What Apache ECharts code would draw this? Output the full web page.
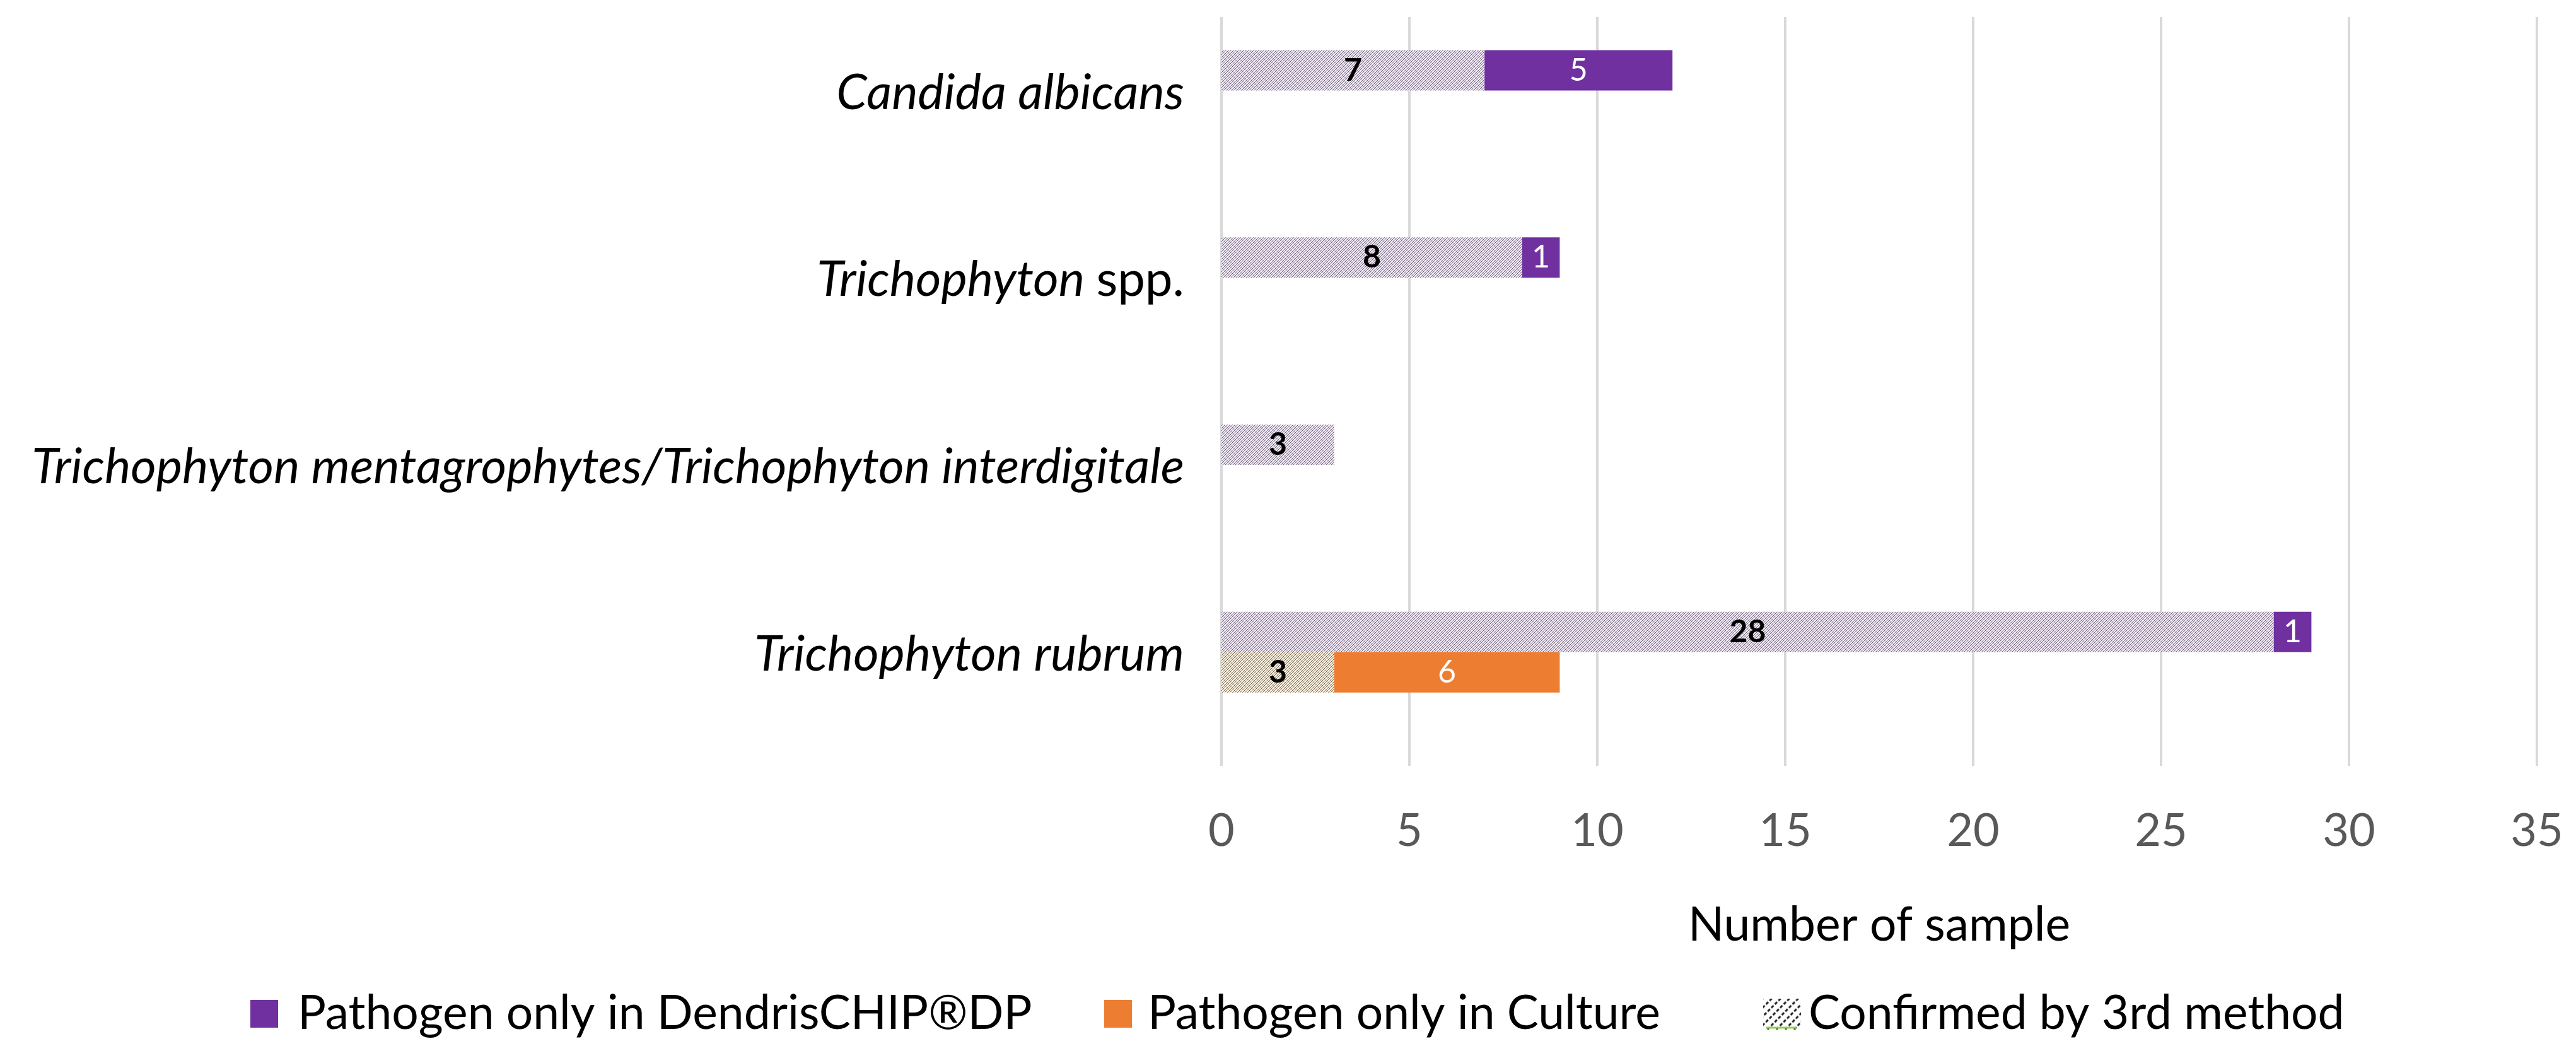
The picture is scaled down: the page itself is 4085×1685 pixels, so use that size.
<!DOCTYPE html>
<html><head><meta charset="utf-8">
<script src="https://cdn.jsdelivr.net/npm/echarts@6/dist/echarts.min.js"></script>
<style>html,body{margin:0;padding:0;background:#fff}#c{width:4085px;height:1685px}</style>
</head><body><div id="c"></div>
<script>
// ---- data ----
const categories = ['Candida albicans', 'Trichophyton spp.', 'Trichophyton mentagrophytes/Trichophyton interdigitale', 'Trichophyton rubrum'];
const confirmedDP = [7, 8, 3, 28];
const onlyDP = [5, 1, 0, 1];
const confirmedCulture = [0, 0, 0, 3];
const onlyCulture = [0, 0, 0, 6];
const spacer = [0, 0, 0, 0];
const xMin = 0, xMax = 35, xStep = 5;
const nameDP = 'Pathogen only in DendrisCHIP®DP';
const nameCulture = 'Pathogen only in Culture';
const nameConfirmed = 'Confirmed by 3rd method';
const xAxisName = 'Number of sample';

// ---- styles ----
const PURPLE = '#7030A0', ORANGE = '#ED7D31';
const FONT = 'Lato';

function hatch(base, ink) {
  const c = document.createElement('canvas'); c.width = 8; c.height = 8;
  const g = c.getContext('2d');
  g.fillStyle = base; g.fillRect(0, 0, 8, 8);
  g.fillStyle = ink;
  for (let y = 0; y < 8; y++) for (let x = 0; x < 8; x++) {
    if ((x + y) % 4 === 3) g.fillRect(x, y, 1, 1);
  }
  return c;
}
function squareIcon(color, w, h, sq) {
  const c = document.createElement('canvas'); c.width = w; c.height = h;
  const g = c.getContext('2d');
  g.fillStyle = color; g.fillRect(0, (h - sq) / 2, sq, sq);
  return 'image://' + c.toDataURL();
}
function hatchIcon(w, h, iw, ih) {
  const c = document.createElement('canvas'); c.width = w; c.height = h;
  const g = c.getContext('2d');
  const y0 = (h - ih) / 2;
  g.save(); g.beginPath(); g.rect(0, y0, iw, ih); g.clip();
  g.strokeStyle = '#222'; g.lineWidth = 3; g.setLineDash([5, 3]);
  for (let k = -ih; k < iw + ih; k += 14) {
    g.beginPath(); g.moveTo(k, y0 + ih); g.lineTo(k + ih, y0); g.stroke();
  }
  g.restore();
  g.fillStyle = '#92D050'; g.fillRect(4, y0 + ih - 4, iw - 12, 3);
  return 'image://' + c.toDataURL();
}

const hatchDP = { image: hatch('#ede4f3', '#6a6070'), repeat: 'repeat' };
const hatchCul = { image: hatch('#f8ecd8', '#6e6458'), repeat: 'repeat' };

const fmt = p => (p.value > 0 ? String(p.value) : '');
const lblBlack = { show: true, position: 'inside', color: '#000', fontWeight: 'bold', fontFamily: FONT, fontSize: 50, formatter: fmt };
const lblWhite = { show: true, position: 'inside', color: '#fff', fontWeight: 'normal', fontFamily: FONT, fontSize: 50, formatter: fmt };

const legendText = { fontFamily: FONT, fontSize: 75, color: '#000', lineHeight: 80 };
function legendFor(name, icon, left, w, h) {
  return { data: [{ name: name, icon: icon }], left: left, top: 1567, itemWidth: w, itemHeight: h,
           padding: 0, selectedMode: false, textStyle: legendText };
}

const chart = echarts.init(document.getElementById('c'), null, { renderer: 'canvas' });
chart.setOption({
  animation: false,
  backgroundColor: '#fff',
  grid: { left: 1937, right: 62, top: 27, bottom: 471, containLabel: false, outerBoundsMode: 'none' },
  xAxis: {
    type: 'value', min: xMin, max: xMax, interval: xStep,
    axisLine: { show: false }, axisTick: { show: false },
    splitLine: { show: true, lineStyle: { color: '#d9d9d9', width: 4 } },
    axisLabel: { margin: 68, fontFamily: FONT, fontSize: 72, lineHeight: 72, color: '#595959' },
    name: xAxisName, nameLocation: 'middle', nameGap: 215,
    nameTextStyle: { fontFamily: FONT, fontSize: 75, lineHeight: 75, color: '#000' }
  },
  yAxis: {
    type: 'category', data: categories, inverse: true,
    axisLine: { show: false }, axisTick: { show: false }, splitLine: { show: false },
    axisLabel: {
      margin: 59, fontFamily: FONT, fontSize: 78, fontStyle: 'italic', color: '#000',
      padding: [0, 0, 56, 0],
      formatter: v => v.endsWith(' spp.') ? '{i|' + v.slice(0, -5) + '} {n|spp.}' : '{i|' + v + '}',
      rich: {
        i: { fontFamily: FONT, fontSize: 78, fontStyle: 'italic', color: '#000' },
        n: { fontFamily: FONT, fontSize: 78, fontStyle: 'normal', color: '#000' }
      }
    }
  },
  legend: [
    legendFor(nameDP, squareIcon(PURPLE, 70, 44, 44), 397, 70, 44),
    legendFor(nameCulture, squareIcon(ORANGE, 64, 44, 44), 1751, 64, 44),
    legendFor(nameConfirmed, hatchIcon(67, 49, 60, 49), 2796, 67, 49)
  ],
  series: [
    { name: nameConfirmed, type: 'bar', stack: 'dp', barWidth: 64, barGap: '0%', data: confirmedDP,
      itemStyle: { color: hatchDP }, label: lblBlack },
    { name: nameDP, type: 'bar', stack: 'dp', barWidth: 64, barGap: '0%', data: onlyDP,
      itemStyle: { color: PURPLE }, label: lblWhite },
    { name: nameConfirmed, type: 'bar', stack: 'culture', barWidth: 64, barGap: '0%', data: confirmedCulture,
      itemStyle: { color: hatchCul }, label: lblBlack },
    { name: nameCulture, type: 'bar', stack: 'culture', barWidth: 64, barGap: '0%', data: onlyCulture,
      itemStyle: { color: ORANGE }, label: lblWhite },
    { name: 'spacer', type: 'bar', stack: 'spacer', barWidth: 64, barGap: '0%', data: spacer,
      silent: true, itemStyle: { color: 'rgba(0,0,0,0)' }, label: { show: false } }
  ]
});
</script></body></html>
